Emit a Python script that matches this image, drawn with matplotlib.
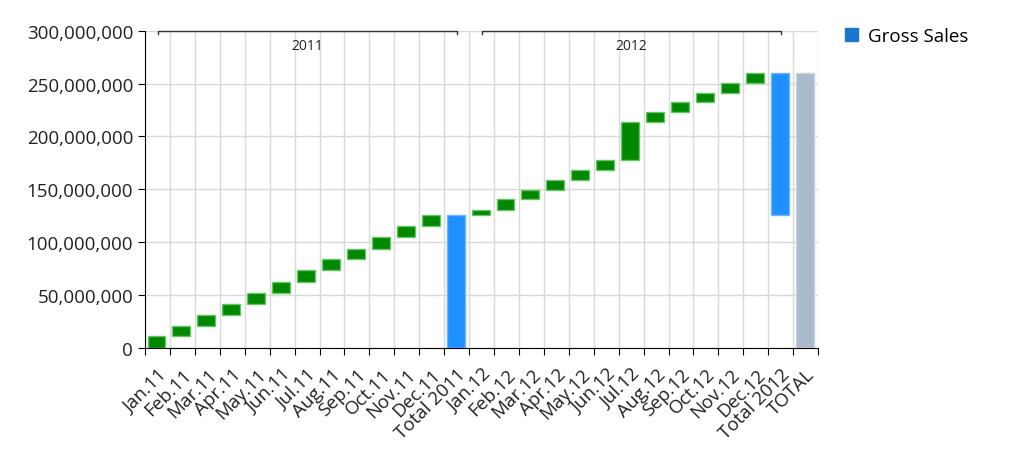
import numpy as np
import matplotlib
matplotlib.use("Agg")
import matplotlib.pyplot as plt
from matplotlib.patches import Patch
from matplotlib.ticker import FuncFormatter

plt.rcParams['font.family'] = ['Open Sans', 'DejaVu Sans']

months_11 = ["Jan.11", "Feb.11", "Mar.11", "Apr.11", "May.11", "Jun.11",
             "Jul.11", "Aug.11", "Sep.11", "Oct.11", "Nov.11", "Dec.11"]
months_12 = ["Jan.12", "Feb.12", "Mar.12", "Apr.12", "May.12", "Jun.12",
             "Jul.12", "Aug.12", "Sep.12", "Oct.12", "Nov.12", "Dec.12"]
# monthly gross sales (millions)
sales_11 = [11.0, 9.5, 10.8, 10.4, 10.7, 10.4, 11.1, 10.4, 9.5, 10.7, 10.8, 10.4]
sales_12 = [4.7, 10.8, 8.5, 9.5, 9.5, 9.4, 35.4, 9.5, 9.4, 8.6, 9.5, 9.4]

labels = months_11 + ["Total 2011"] + months_12 + ["Total 2012", "TOTAL"]

# build waterfall segments (bottom, height, kind)
bottoms, heights, kinds = [], [], []
run = 0.0
for v in sales_11:
    bottoms.append(run); heights.append(v); kinds.append("m"); run += v
bottoms.append(0.0); heights.append(run); kinds.append("t")
start12 = run
for v in sales_12:
    bottoms.append(run); heights.append(v); kinds.append("m"); run += v
bottoms.append(start12); heights.append(run - start12); kinds.append("t")
bottoms.append(0.0); heights.append(run); kinds.append("g")

bottoms = np.array(bottoms) * 1e6
heights = np.array(heights) * 1e6

face = {"m": "#008800", "t": "#1e90ff", "g": "#aabbcc"}
edge = {"m": "#66c466", "t": "#6cb6ff", "g": "#c5d2de"}

fig = plt.figure(figsize=(10.1, 4.56), dpi=100)
ax = fig.add_axes([0.1436, 0.2346, 0.6664, 0.6959])

x = np.arange(len(labels))
for i in x:
    k = kinds[i]
    ax.bar(i - 0.04, heights[i], bottom=bottoms[i], width=0.72,
           color=face[k], edgecolor=edge[k], linewidth=1, zorder=3)

ax.set_xlim(-0.5, len(labels) - 0.5)
ax.set_ylim(0, 300e6)
ax.set_yticks(np.arange(0, 300e6 + 1, 50e6))
ax.yaxis.set_major_formatter(FuncFormatter(lambda v, p: f"{int(v):,}"))
ax.tick_params(axis='y', labelsize=13.5, length=5, color='black', labelcolor='#222222')

ax.set_xticks(np.arange(-0.5, len(labels)))
ax.set_xticklabels([])
ax.set_xticks(x, minor=True)
ax.set_xticklabels(labels, minor=True, rotation=45, ha='right',
                   rotation_mode='anchor', fontsize=13.5, color='#222222')
ax.tick_params(axis='x', which='major', length=5, color='black')
ax.tick_params(axis='x', which='minor', length=0, pad=12)

ax.grid(True, which='major', color='#d9d9d9', linewidth=1, zorder=0)
ax.set_axisbelow(True)
for s in ['top', 'right']:
    ax.spines[s].set_visible(False)
for s in ['left', 'bottom']:
    ax.spines[s].set_color('black')

# year brackets
groups = [("2011", 0, 12), ("2012", 13, 25)]
for name, a, b in groups:
    ax.plot([a, a, b, b], [296.5e6, 300e6, 300e6, 296.5e6], color='#333333',
            linewidth=1, clip_on=False, zorder=4)
    ax.text((a + b) / 2, 286e6, name, ha='center', va='center', fontsize=10,
            color='#222222')

fig.legend(handles=[Patch(color='#1a75cf', label='Gross Sales')],
           loc='upper left', bbox_to_anchor=(0.82, 0.975), frameon=False,
           fontsize=13.5, handlelength=0.7, handleheight=0.7, handletextpad=0.5)

fig.savefig("out.png", dpi=100)
